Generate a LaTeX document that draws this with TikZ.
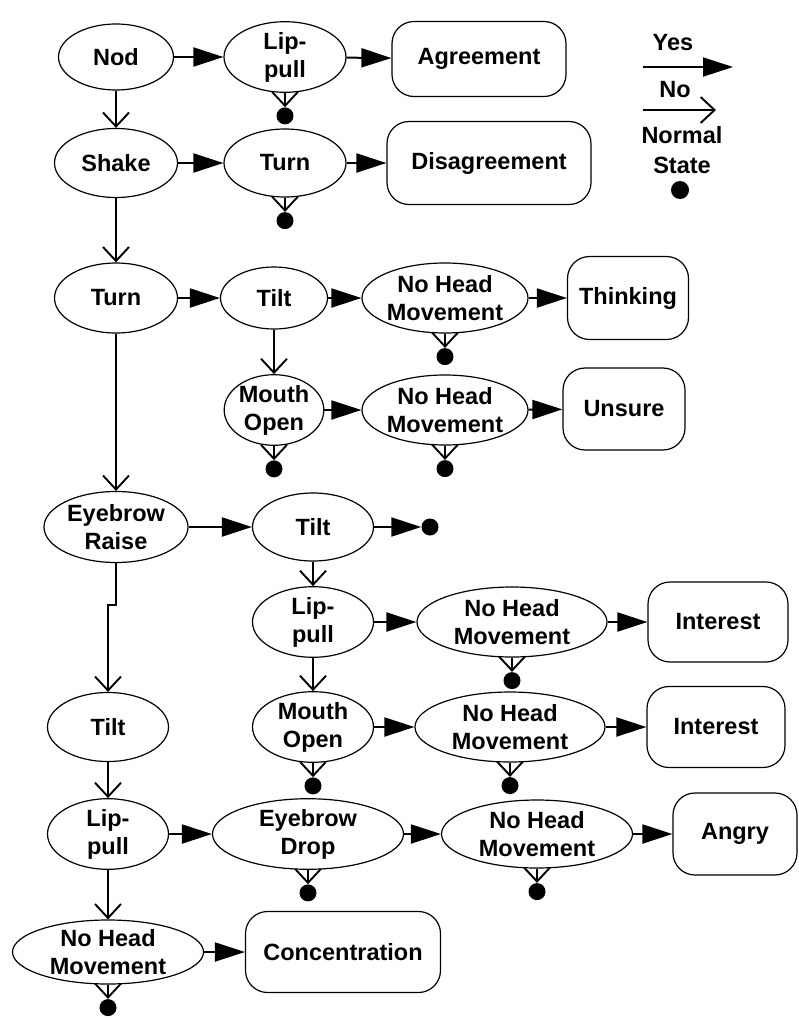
\documentclass[tikz,border=0pt]{standalone}
\usepackage{fontspec}
\setmainfont{Liberation Sans}
\usetikzlibrary{arrows.meta,shapes.geometric,calc}

\begin{document}
\begin{tikzpicture}[x=1pt,y=-1pt,
  every node/.style={font=\fontsize{23.5}{28}\selectfont\bfseries},
  sz/.style n args={2}{minimum width=#1pt,minimum height=#2pt},
  state/.style={ellipse,draw,line width=1.2pt,inner sep=0pt,align=center},
  outcome/.style={rectangle,rounded corners=22pt,draw,line width=1.2pt,inner sep=0pt,align=center},
  normal/.style={circle,fill,inner sep=0pt,minimum size=17pt},
  yes/.style={line width=2pt,-{Triangle[length=30pt,width=19pt]}},
  no/.style={line width=1.9pt,-{Straight Barb[length=14pt,width=26pt]}},
]
\useasboundingbox (0,0) rectangle (799,1018);

% ---- states and outcomes ----
\node[state,sz={115}{66}]  (nod)   at (116,57)  {Nod};
\node[state,sz={122}{70}]  (lip1)  at (285,57)  {Lip-\\pull};
\node[outcome,sz={174}{75}] (agree) at (479,59) {Agreement};

\node[state,sz={123}{69}]  (shake) at (116,163) {Shake};
\node[state,sz={122}{68}]  (turn2) at (285,163) {Turn};
\node[outcome,sz={204}{83}] (disagree) at (489,163) {Disagreement};

\node[state,sz={123}{70}]  (turn3) at (116,298) {Turn};
\node[state,sz={107}{62}]  (tilt3) at (274,298) {Tilt};
\node[state,sz={166}{70}]  (nhm3)  at (445,298) {No Head\\Movement};
\node[outcome,sz={121}{83}] (think) at (628,298) {Thinking};

\node[state,sz={98}{70}]   (mo4)   at (274,410) {Mouth\\Open};
\node[state,sz={166}{70}]  (nhm4)  at (445,410) {No Head\\Movement};
\node[outcome,sz={122}{82}] (unsure) at (624,409) {Unsure};

\node[state,sz={144}{71}]  (er)    at (116,527) {Eyebrow\\Raise};
\node[state,sz={121}{68}]  (tilt5) at (313,527) {Tilt};
\node[normal] (d5) at (430,527) {};

\node[state,sz={121}{70}]  (lip6)  at (313,622) {Lip-\\pull};
\node[state,sz={190}{70}]  (nhm6)  at (512,622) {No Head\\Movement};
\node[outcome,sz={140}{80}] (int6) at (718,622) {Interest};

\node[state,sz={121}{69}]  (tilt7) at (108,727) {Tilt};
\node[state,sz={121}{70}]  (mo7)   at (313,727) {Mouth\\Open};
\node[state,sz={190}{70}]  (nhm7)  at (510,727) {No Head\\Movement};
\node[outcome,sz={138}{81}] (int7) at (716,727) {Interest};

\node[state,sz={121}{68}]  (lip8)  at (108,834) {Lip-\\pull};
\node[state,sz={191}{68}]  (ed)    at (308,834) {Eyebrow\\Drop};
\node[state,sz={191}{68}]  (nhm8)  at (537,834) {No Head\\Movement};
\node[outcome,sz={124}{82}] (angry) at (735,834) {Angry};

\node[state,sz={191}{63}]  (nhm9)  at (108,952) {No Head\\Movement};
\node[outcome,sz={195}{81}] (conc) at (343,952) {Concentration};

% ---- return-to-normal dots ----
\foreach \n in {lip1,turn2,nhm3,mo4,nhm4,nhm6,mo7,nhm7,ed,nhm8,nhm9}{
  \node[normal] (d\n) at ($(\n.south)+(0,23)$) {};
  \draw[no] (\n) -- (d\n);
}

% ---- yes transitions ----
\draw[yes] (nod) -- (lip1);
\draw[yes] (lip1) -- (agree);
\draw[yes] (shake) -- (turn2);
\draw[yes] (turn2) -- (disagree);
\draw[yes] (turn3) -- (tilt3);
\draw[yes] (tilt3) -- (nhm3);
\draw[yes] (nhm3) -- (think);
\draw[yes] (mo4) -- (nhm4);
\draw[yes] (nhm4) -- (unsure);
\draw[yes] (er) -- (tilt5);
\draw[yes] (tilt5) -- (d5);
\draw[yes] (lip6) -- (nhm6);
\draw[yes] (nhm6) -- (int6);
\draw[yes] (mo7) -- (nhm7);
\draw[yes] (nhm7) -- (int7);
\draw[yes] (lip8) -- (ed);
\draw[yes] (ed) -- (nhm8);
\draw[yes] (nhm8) -- (angry);
\draw[yes] (nhm9) -- (conc);

% ---- no transitions ----
\draw[no] (nod) -- (shake);
\draw[no] (shake) -- (turn3);
\draw[no] (turn3) -- (er);
\draw[no] (tilt3) -- (mo4);
\draw[no] (er.south) -- ++(0,42) -| (tilt7.north);
\draw[no] (tilt5) -- (lip6);
\draw[no] (lip6) -- (mo7);
\draw[no] (tilt7) -- (lip8);
\draw[no] (lip8) -- (nhm9);

% ---- legend ----
\node (lyes) at (673,43) {Yes};
\coordinate (yesA) at (643,67);
\coordinate (yesB) at (733,67);
\draw[yes] (yesA) -- (yesB);
\node (lno) at (675,90) {No};
\coordinate (noA) at (643,110);
\coordinate (noB) at (716,110);
\draw[no] (noA) -- (noB);
\node[align=center,font=\fontsize{23.5}{30}\selectfont\bfseries] (lnormal) at (682,150) {Normal\\State};
\node[normal,minimum size=18pt] (ldot) at (680,190) {};
\end{tikzpicture}
\end{document}
